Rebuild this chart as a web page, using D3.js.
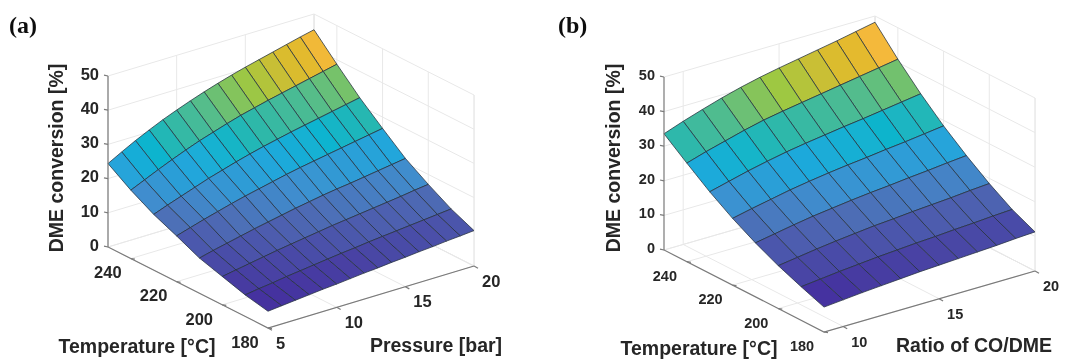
<!DOCTYPE html>
<html>
<head>
<meta charset="utf-8">
<script src="https://d3js.org/d3.v7.min.js"></script>
<style>
  body { margin: 0; background: #fff; }
  svg { display: block; }
  text { font-family: "Liberation Sans", Arial, sans-serif; font-weight: bold; fill: #262626; }
  .tag { font-family: "Liberation Serif", serif; fill: #111; }
</style>
</head>
<body>
<div id="chart"></div>
<script>
const temperatures = [180, 190, 200, 210, 220, 230, 240, 250];
const tempTicks = [180, 200, 220, 240];
const zTicks = [0, 10, 20, 30, 40, 50];

// panel a: conversion per temperature (rows) and pressure (columns)
const pressures = [5, 6, 7, 8, 9, 10, 11, 12, 13, 14, 15, 16, 17, 18, 19, 20];
const pressureTicks = [5, 10, 15, 20];
const pressureZ = [
    [4.9, 5.3, 5.7, 6.1, 6.5, 6.8, 7.2, 7.6, 7.9, 8.3, 8.6, 9.0, 9.3, 9.7, 10.0, 10.35],
    [6.3, 6.9, 7.4, 8.0, 8.5, 9.0, 9.5, 10.0, 10.4, 10.9, 11.3, 11.7, 12.1, 12.5, 12.9, 13.3],
    [8.3, 9.0, 9.7, 10.4, 11.1, 11.7, 12.3, 12.9, 13.5, 14.0, 14.5, 15.0, 15.5, 16.0, 16.6, 17.1],
    [10.3, 11.3, 12.2, 13.1, 14.0, 14.8, 15.6, 16.4, 17.1, 17.8, 18.4, 18.9, 19.5, 20.1, 20.7, 21.3],
    [13.4, 14.6, 15.8, 16.9, 18.0, 19.0, 19.9, 20.8, 21.7, 22.5, 23.2, 23.9, 24.6, 25.3, 26.0, 26.7],
    [16.3, 17.8, 19.2, 20.6, 22.0, 23.2, 24.4, 25.5, 26.5, 27.4, 28.3, 29.1, 29.9, 30.7, 31.5, 32.3],
    [20.0, 21.8, 23.6, 25.3, 26.9, 28.4, 29.7, 31.0, 32.2, 33.2, 34.2, 35.1, 36.0, 36.9, 37.8, 38.7],
    [24.4, 26.6, 28.7, 30.6, 32.4, 34.0, 35.5, 36.9, 38.2, 39.4, 40.5, 41.5, 42.5, 43.5, 44.5, 45.4]
];

// panel b: conversion per temperature (rows) and CO/DME ratio (columns)
const ratios = [9, 10, 11, 12, 13, 14, 15, 16, 17, 18, 19, 20];
const ratioTicks = [10, 15, 20];
const ratioZ = [
    [7.2, 7.7, 8.2, 8.6, 9.0, 9.4, 9.7, 10.0, 10.3, 10.6, 11.0, 11.3],
    [9.7, 10.3, 10.9, 11.4, 11.9, 12.3, 12.7, 13.0, 13.4, 13.7, 14.1, 14.4],
    [12.4, 13.2, 14.0, 14.7, 15.3, 15.9, 16.3, 16.8, 17.2, 17.6, 18.1, 18.5],
    [15.6, 16.6, 17.6, 18.5, 19.2, 19.9, 20.5, 21.0, 21.6, 22.1, 22.7, 23.2],
    [19.3, 20.5, 21.6, 22.7, 23.6, 24.4, 25.1, 25.7, 26.4, 27.0, 27.7, 28.4],
    [23.6, 25.0, 26.4, 27.6, 28.7, 29.6, 30.4, 31.2, 31.9, 32.7, 33.5, 34.3],
    [28.5, 30.2, 31.7, 33.2, 34.5, 35.5, 36.4, 37.3, 38.2, 39.1, 40.0, 40.9],
    [33.6, 35.6, 37.4, 39.1, 40.6, 41.9, 43.0, 44.0, 45.0, 46.0, 47.1, 48.2]
];

// colour stops, panel b sits a little higher on the same map
const colorStops = [6, 8, 11.8, 15.2, 19.2, 24, 27, 29.5, 33, 35.2, 37, 39.5, 41, 42];
const colorValues = ["#44309f", "#473da2", "#4c55ab", "#4e6cb5", "#3f8fcf", "#20a8dc", "#0fb4cf",
    "#2cb8ac", "#4fbc90", "#78c268", "#a0c840", "#d8bc30", "#e6ba2c", "#f8b83f"];

const svg = d3.select("#chart").append("svg")
    .attr("width", 1067)
    .attr("height", 359);

const defs = svg.append("defs");
defs.append("filter").attr("id", "soft")
    .append("feGaussianBlur").attr("stdDeviation", 0.4);

const page = svg.append("g").attr("filter", "url(#soft)");

function drawPanel(p) {
    const g = page.append("g");

    // oblique projection: every axis moves the point along its own screen direction
    const xBy1 = d3.scaleLinear().domain(p.xDomain).range([p.front[0], p.right[0]]);
    const yBy1 = d3.scaleLinear().domain(p.xDomain).range([p.front[1], p.right[1]]);
    const xByT = d3.scaleLinear().domain([180, 250]).range([0, p.left[0] - p.front[0]]);
    const yByT = d3.scaleLinear().domain([180, 250]).range([0, p.left[1] - p.front[1]]);
    const yByZ = d3.scaleLinear().domain([0, 50]).range([0, -p.zHeight]);

    const pt = (v, t, z) => [xBy1(v) + xByT(t), yBy1(v) + yByT(t) + yByZ(z)];
    const line = d3.line();
    const [v0, v1] = p.xDomain;

    const color = d3.scaleLinear()
        .domain(colorStops.map(d => d + p.colorShift))
        .range(colorValues)
        .clamp(true);

    // walls and floor
    const grid = g.append("g").attr("fill", "none").attr("stroke", "#e8e8e8").attr("stroke-width", 1);
    const gridLine = pts => grid.append("path").attr("d", line(pts));
    zTicks.forEach(z => {
        gridLine([pt(v0, 250, z), pt(v1, 250, z), pt(v1, 180, z)]);
    });
    p.ticks.concat([v1]).forEach(v => {
        gridLine([pt(v, 180, 0), pt(v, 250, 0), pt(v, 250, 50)]);
    });
    tempTicks.concat([250]).forEach(t => {
        gridLine([pt(v0, t, 0), pt(v1, t, 0), pt(v1, t, 50)]);
    });
    gridLine([pt(v1, 180, 0), pt(v1, 180, 50)]);

    // surface, painted from the back corner forward
    const cells = [];
    for (let i = temperatures.length - 2; i >= 0; i--) {
        for (let j = p.xs.length - 2; j >= 0; j--) {
            cells.push({ i, j });
        }
    }
    g.append("g").selectAll("path")
        .data(cells)
        .enter()
        .append("path")
        .attr("d", d => {
            const { i, j } = d;
            return line([
                pt(p.xs[j], temperatures[i], p.z[i][j]),
                pt(p.xs[j + 1], temperatures[i], p.z[i][j + 1]),
                pt(p.xs[j + 1], temperatures[i + 1], p.z[i + 1][j + 1]),
                pt(p.xs[j], temperatures[i + 1], p.z[i + 1][j])
            ]) + "Z";
        })
        .attr("fill", d => color(d3.mean([
            p.z[d.i][d.j], p.z[d.i][d.j + 1], p.z[d.i + 1][d.j + 1], p.z[d.i + 1][d.j]
        ])))
        .attr("stroke", "#26323f")
        .attr("stroke-opacity", 0.85)
        .attr("stroke-linejoin", "round")
        .attr("stroke-width", 0.9);

    // axis lines
    const axes = g.append("g").attr("fill", "none").attr("stroke", "#7a7a7a").attr("stroke-width", 1.2);
    axes.append("path").attr("d", line([pt(v0, 250, 50), pt(v0, 250, 0), pt(v0, 180, 0), pt(v1, 180, 0)]));

    // z axis
    zTicks.forEach(z => {
        const [x, y] = pt(v0, 250, z);
        axes.append("path").attr("d", line([[x - 4, y - 0.8], [x, y]]));
        g.append("text")
            .attr("x", x + p.zLabel[0])
            .attr("y", y + p.zLabel[1])
            .attr("text-anchor", "end")
            .attr("dy", "0.35em")
            .style("font-size", p.tickSize + "px")
            .text(z);
    });

    // temperature axis
    tempTicks.forEach(t => {
        const [x, y] = pt(v0, t, 0);
        axes.append("path").attr("d", line([[x + 4, y + 0.6], [x, y]]));
        g.append("text")
            .attr("x", x + p.tempLabel[0])
            .attr("y", y + p.tempLabel[1])
            .attr("text-anchor", "middle")
            .attr("dy", "0.35em")
            .style("font-size", p.tickSize + "px")
            .text(t);
    });

    // pressure / ratio axis
    p.ticks.forEach(v => {
        const [x, y] = pt(v, 180, 0);
        axes.append("path").attr("d", line([[x + 4, y + 2.2], [x, y]]));
        g.append("text")
            .attr("x", x + p.xLabel[0])
            .attr("y", y + p.xLabel[1])
            .attr("text-anchor", "start")
            .attr("dy", "0.35em")
            .style("font-size", p.tickSize + "px")
            .text(v);
    });

    // titles
    g.append("text")
        .attr("transform", `translate(${p.zTitle[0]},${p.zTitle[1]}) rotate(-90)`)
        .attr("text-anchor", "middle")
        .style("font-size", p.titleSize + "px")
        .text("DME conversion [%]");
    g.append("text")
        .attr("x", p.tempTitle[0])
        .attr("y", p.tempTitle[1])
        .attr("text-anchor", "middle")
        .style("font-size", p.titleSize + "px")
        .text("Temperature [°C]");
    g.append("text")
        .attr("x", p.xTitle[0])
        .attr("y", p.xTitle[1])
        .attr("text-anchor", "middle")
        .style("font-size", p.titleSize + "px")
        .text(p.xName);

    g.append("text")
        .attr("class", "tag")
        .attr("x", p.tag[0])
        .attr("y", p.tag[1])
        .style("font-size", "24px")
        .text(p.tagText);
}

drawPanel({
    xs: pressures, z: pressureZ, ticks: pressureTicks, xDomain: [5, 20],
    front: [268, 328], right: [474, 266], left: [108, 247], zHeight: 171,
    colorShift: 0,
    tickSize: 16.5, titleSize: 19.5,
    zLabel: [-9, -2], tempLabel: [-23, 14], xLabel: [8, 15],
    zTitle: [63, 158], tempTitle: [137, 353], xTitle: [436, 352],
    xName: "Pressure [bar]", tag: [9, 33], tagText: "(a)"
});

drawPanel({
    xs: ratios, z: ratioZ, ticks: ratioTicks, xDomain: [9, 20],
    front: [824, 332], right: [1035, 271], left: [664, 250], zHeight: 173,
    colorShift: 2.3,
    tickSize: 14.5, titleSize: 19.5,
    zLabel: [-9, -2], tempLabel: [-22, 14], xLabel: [8, 15],
    zTitle: [620, 158], tempTitle: [699, 355], xTitle: [974, 352],
    xName: "Ratio of CO/DME", tag: [558, 33], tagText: "(b)"
});
</script>
</body>
</html>
